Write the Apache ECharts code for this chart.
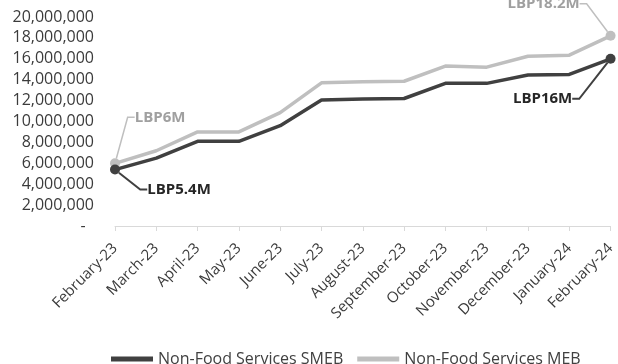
<!DOCTYPE html>
<html>
<head>
<meta charset="utf-8">
<script src="https://cdn.jsdelivr.net/npm/echarts@6/dist/echarts.min.js"></script>
<style>
  html, body { margin: 0; padding: 0; background: #fff; }
  #chart { width: 618px; height: 364px; }
</style>
</head>
<body>
<div id="chart"></div>
<script>
// Monthly cost of non-food services (LBP)
const months = ['February-23', 'March-23', 'April-23', 'May-23', 'June-23', 'July-23', 'August-23',
  'September-23', 'October-23', 'November-23', 'December-23', 'January-24', 'February-24'];
const smebValues = [5400000, 6500000, 8100000, 8100000, 9600000, 12050000, 12150000,
  12200000, 13650000, 13650000, 14450000, 14500000, 16000000];
const mebValues = [6000000, 7200000, 9000000, 9000000, 10850000, 13700000, 13800000,
  13850000, 15300000, 15200000, 16250000, 16350000, 18200000];
const seriesNames = ['Non-Food Services SMEB', 'Non-Food Services MEB'];
const yTicks = [0, 2000000, 4000000, 6000000, 8000000, 10000000, 12000000, 14000000, 16000000, 18000000, 20000000];

const FONT = '"Open Sans", "Noto Sans", sans-serif';
const DARK = '#404040';
const LIGHT = '#bfbfbf';

// callout offsets (label centre relative to its point) for the first and last points
const callouts = {
  0: { 0: [64, 20], 12: [-68, 40] },
  1: { 0: [45, -46], 12: [-67, -32] }
};

function fmtThousands(v) {
  return String(v).replace(/\B(?=(\d{3})+(?!\d))/g, ',');
}
function fmtMillions(v) {
  return 'LBP' + (Math.round(v / 100000) / 10) + 'M';
}

function buildData(values, color, textColor, leaderWidth) {
  const last = values.length - 1;
  return values.map((v, i) => {
    if (i !== 0 && i !== last) {
      return { value: v, symbol: 'none' };
    }
    return {
      value: v,
      symbol: 'circle',
      symbolSize: 10,
      label: {
        show: true,
        position: 'inside',
        formatter: p => fmtMillions(p.value),
        color: textColor,
        fontFamily: FONT,
        fontWeight: 'bold',
        fontSize: 15,
        padding: [0, 4]
      },
      labelLine: {
        show: true,
        length2: 7,
        lineStyle: { color: color, width: leaderWidth }
      }
    };
  });
}

const chart = echarts.init(document.getElementById('chart'), null, { renderer: 'canvas' });

chart.setOption({
  animation: false,
  backgroundColor: '#ffffff',
  grid: { left: 115, right: 5, top: 17, bottom: 138, containLabel: false },
  legend: {
    left: 106,
    top: 346,
    itemGap: 14,
    itemWidth: 42,
    itemHeight: 5,
    icon: 'rect',
    textStyle: { fontFamily: FONT, fontSize: 16, color: '#404040' },
    data: [
      { name: seriesNames[0], itemStyle: { color: DARK } },
      { name: seriesNames[1], itemStyle: { color: LIGHT } }
    ]
  },
  xAxis: {
    type: 'category',
    data: months,
    boundaryGap: false,
    axisLine: { show: true, lineStyle: { color: '#d9d9d9', width: 1 } },
    axisTick: { show: true, alignWithLabel: true, length: 5, lineStyle: { color: '#d9d9d9' } },
    axisLabel: {
      interval: 0,
      rotate: 45,
      margin: 20,
      fontFamily: FONT,
      fontSize: 15,
      color: '#3b3b3b'
    },
    splitLine: { show: false }
  },
  yAxis: {
    type: 'value',
    min: yTicks[0],
    max: yTicks[yTicks.length - 1],
    interval: yTicks[1] - yTicks[0],
    axisLine: { show: false },
    axisTick: { show: false },
    splitLine: { show: false },
    axisLabel: {
      margin: 21,
      fontFamily: FONT,
      fontSize: 16,
      color: '#3b3b3b',
      formatter: v => (v === 0 ? '-  ' : fmtThousands(v))
    }
  },
  series: [
    {
      name: seriesNames[0],
      type: 'line',
      data: buildData(smebValues, DARK, '#262626', 2),
      lineStyle: { color: DARK, width: 3.5 },
      itemStyle: { color: DARK },
      clip: false,
      z: 3,
      labelLayout: p => {
        const o = callouts[0][p.dataIndex];
        return o ? { dx: o[0], dy: o[1] } : {};
      }
    },
    {
      name: seriesNames[1],
      type: 'line',
      data: buildData(mebValues, LIGHT, '#a0a0a0', 1.5),
      lineStyle: { color: LIGHT, width: 3.5 },
      itemStyle: { color: LIGHT },
      clip: false,
      z: 2,
      labelLayout: p => {
        const o = callouts[1][p.dataIndex];
        return o ? { dx: o[0], dy: o[1] } : {};
      }
    }
  ]
});
</script>
</body>
</html>
